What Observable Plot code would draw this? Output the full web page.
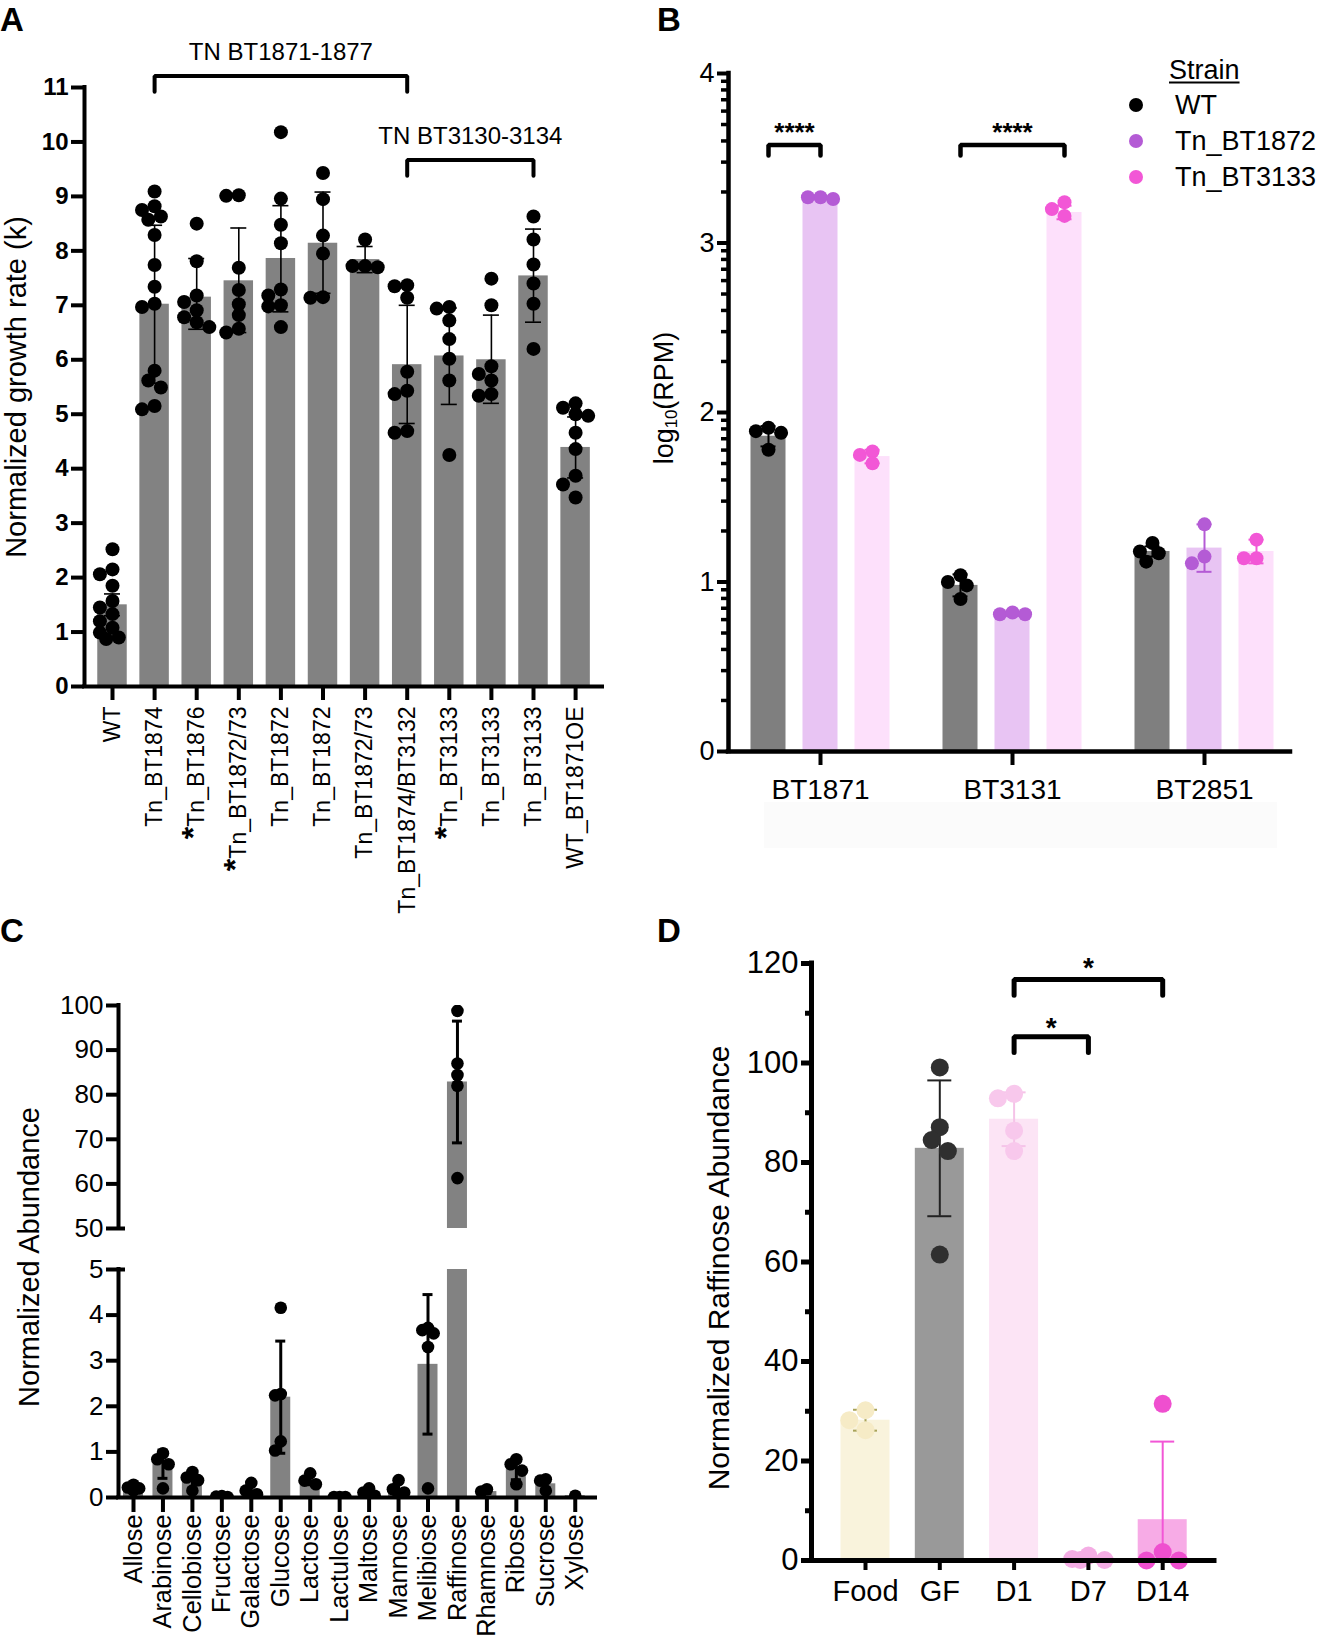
<!DOCTYPE html>
<html>
<head>
<meta charset="utf-8">
<script src="https://cdn.jsdelivr.net/npm/d3@7"></script>
<script src="https://cdn.jsdelivr.net/npm/@observablehq/plot@0.6"></script>
<style>
html,body{margin:0;padding:0;background:#fff;}
#fig{position:relative;width:1318px;height:1641px;overflow:hidden;background:#fff;font-family:"Liberation Sans",Arial,Helvetica,sans-serif;color:#000;}
#fig > svg{position:absolute;left:0;top:0;}
.t{position:absolute;white-space:nowrap;line-height:1;}
</style>
</head>
<body>
<div id="fig"></div>
<script>
// ================= DATA =================
// Panel A
const aCategories = ["WT","Tn_BT1874","*Tn_BT1876","*Tn_BT1872/73","Tn_BT1872","Tn_BT1872","Tn_BT1872/73","Tn_BT1874/BT3132","*Tn_BT3133","Tn_BT3133","Tn_BT3133","WT_BT1871OE"];
const aMeans   = [1.50, 7.02, 7.15, 7.45, 7.86, 8.14, 7.84, 5.91, 6.07, 6.00, 7.54, 4.39];
const aErrLow  = [1.30, 5.57, 6.56, 6.50, 6.88, 7.22, 7.60, 4.83, 5.18, 5.20, 6.69, 3.83];
const aErrHigh = [1.70, 8.47, 7.86, 8.42, 8.83, 9.08, 8.08, 7.00, 6.95, 6.82, 8.40, 4.95];
const aPoints = [
  [2.52, 2.15, 2.06, 1.85, 1.57, 1.45, 1.33, 1.20, 1.08, 0.99, 0.90, 0.87],
  [9.09, 8.82, 8.75, 8.63, 8.57, 8.29, 7.74, 7.34, 7.03, 6.97, 5.80, 5.62, 5.49, 5.15, 5.09],
  [8.50, 7.81, 7.18, 7.06, 6.91, 6.78, 6.69, 6.60],
  [9.02, 9.01, 7.69, 7.28, 7.02, 6.82, 6.57, 6.50],
  [10.18, 8.96, 8.48, 8.14, 7.29, 7.18, 7.00, 6.98, 6.60],
  [9.43, 8.95, 8.28, 7.95, 7.15, 7.14],
  [8.21, 7.72, 7.70, 7.72],
  [7.37, 7.35, 7.14, 5.78, 5.43, 5.37, 4.69, 4.66],
  [6.97, 6.94, 6.72, 6.38, 6.02, 5.62, 4.25],
  [7.49, 7.00, 5.88, 5.74, 5.62, 5.37, 5.34],
  [8.63, 8.21, 7.75, 7.40, 7.03, 6.20],
  [5.20, 5.12, 5.00, 4.97, 4.66, 4.36, 3.87, 3.71, 3.47]
];
const aYTicks = [0,1,2,3,4,5,6,7,8,9,10,11];
const aGroupLabels = ["TN BT1871-1877", "TN BT3130-3134"];
const aGroupFrom = [1, 7];
const aGroupTo = [7, 10];
const aGroupLevel = [11.21, 9.67];
const aGroupTextLevel = [11.65, 10.10];

// Panel B
const bGenes = ["BT1871", "BT3131", "BT2851"];
const bStrains = ["WT", "Tn_BT1872", "Tn_BT3133"];
const bMeanWT = [1.86, 0.98, 1.18];
const bMeanTn1872 = [3.27, 0.81, 1.20];
const bMeanTn3133 = [1.74, 3.18, 1.18];
const bSdWT = [0.06, 0.065, 0.03];
const bSdTn1872 = [0.005, 0.01, 0.14];
const bSdTn3133 = [0.04, 0.04, 0.07];
const bPtsWT = [[1.91, 1.89, 1.88, 1.78], [1.04, 1.00, 0.98, 0.90], [1.23, 1.18, 1.17, 1.12]];
const bPtsTn1872 = [[3.27, 3.27, 3.26], [0.81, 0.82, 0.81], [1.34, 1.15, 1.11]];
const bPtsTn3133 = [[1.77, 1.75, 1.70], [3.24, 3.20, 3.16], [1.25, 1.14, 1.14]];
const bMajorTicks = [0, 1, 2, 3, 4];
const bSigLabels = ["****", "****"];
const bSigFrom = [[0, 0], [1, 0]];   // [gene, strain]
const bSigTo = [[0, 1], [1, 2]];
const bSigLevel = [3.578, 3.578];
const bSigTextLevel = [3.652, 3.652];

// Panel C
const cSugars = ["Allose","Arabinose","Cellobiose","Fructose","Galactose","Glucose","Lactose","Lactulose","Maltose","Mannose","Melibiose","Raffinose","Rhamnose","Ribose","Sucrose","Xylose"];
const cMeans = [0.21, 0.73, 0.37, 0.02, 0.15, 2.20, 0.38, 0.01, 0.10, 0.18, 2.92, 82.85, 0.13, 0.62, 0.30, 0.04];
const cSd    = [0.05, 0.31, 0.18, 0.01, 0.12, 1.23, 0.10, 0.005, 0.08, 0.14, 1.53, 13.65, 0.04, 0.23, 0.14, 0.01];
const cPoints = [
  [0.28, 0.22, 0.20, 0.15],
  [0.97, 0.84, 0.73, 0.20],
  [0.56, 0.44, 0.38, 0.15],
  [0.03, 0.02, 0.01],
  [0.32, 0.15, 0.07, 0.04],
  [4.16, 2.27, 2.24, 1.23, 1.03],
  [0.53, 0.37, 0.29],
  [0.01, 0.01, 0.01],
  [0.20, 0.11, 0.04],
  [0.38, 0.18, 0.11, 0.04],
  [3.72, 3.67, 3.60, 3.30, 0.20],
  [98.8, 87.0, 84.4, 82.0, 61.3],
  [0.18, 0.13],
  [0.84, 0.73, 0.59, 0.29],
  [0.40, 0.37, 0.15],
  [0.04]
];
const cTopTicks = [50, 60, 70, 80, 90, 100];
const cBottomTicks = [0, 1, 2, 3, 4, 5];

// Panel D
const dGroups = ["Food", "GF", "D1", "D7", "D14"];
const dMeans = [28.2, 82.85, 88.7, 0.35, 8.2];
const dSd = [2.1, 13.65, 5.4, 0.45, 15.7];
const dPoints = [
  [30.2, 28.2, 26.2],
  [99.1, 87.1, 84.5, 82.3, 61.5],
  [93.8, 92.9, 86.4, 82.3],
  [1.0, 0.3, 0.1, 0.1],
  [31.5, 1.7, 0, 0]
];
const dMajorTicks = [0, 20, 40, 60, 80, 100, 120];
const dMinorTicks = [10, 30, 50, 70, 90, 110];
const dSigLabels = ["*", "*"];
const dSigFrom = [2, 2];
const dSigTo = [3, 4];
const dSigLevel = [105.3, 116.8];
const dSigTextLevel = [107.0, 119.0];

// ================= STYLE =================
const bBarColors = ["#7f7f7f", "#e8c4f3", "#fde0fb"];
const bDotColors = ["#000000", "#b45bd5", "#f257d6"];
const dBarColors = ["#f9f3dc", "#999999", "#fce4f5", "#f9d2ef", "#f7abe6"];
const dDotColors = ["#f6ebc6", "#2f2f2f", "#f8c8ec", "#f4ade4", "#ef4fcf"];
const dErrColors = ["#a8a35a", "#222222", "#f5c3e8", "#f4ade4", "#f256d6"];

// ================= HELPERS =================
const W = 1318, H = 1641;
const FONT = '"Liberation Sans", Arial, Helvetica, sans-serif';
const fig = document.getElementById("fig");
const intFmt = d => String(d);

function swarm(vals, pyu, pxu, r, maxOff) {
  const idx = d3.range(vals.length).sort((a, b) => d3.descending(vals[a], vals[b]));
  const placed = [], out = new Array(vals.length).fill(0);
  const step = r * 0.9, need = r * 1.55;
  const cands = [0];
  for (let k = 1; k * step <= maxOff + 1e-9; k++) cands.push(-k * step, k * step);
  for (const i of idx) {
    const y = vals[i] * pyu;
    let best = 0, bestD = -1;
    for (const c of cands) {
      const d = placed.length ? d3.min(placed, p => Math.hypot(p.x - c, p.y - y)) : Infinity;
      if (d >= need) { best = c; break; }
      if (d > bestD) { bestD = d; best = c; }
    }
    placed.push({x: best, y});
    out[i] = best / pxu;
  }
  return out;
}

function mk(opts) {
  const p = Plot.plot(Object.assign({
    width: W, height: H,
    style: {background: "transparent", overflow: "visible", fontFamily: FONT, color: "black"}
  }, opts));
  fig.appendChild(p);
  return p;
}

function txt(html, x, y, size, extra = {}) {
  const d = document.createElement("div");
  d.className = "t";
  d.innerHTML = html;
  d.style.left = x + "px";
  d.style.top = y + "px";
  d.style.fontSize = size + "px";
  d.style.transform = extra.rotate ? "translate(-50%,-50%) rotate(-90deg)" : (extra.left ? "translate(0,-50%)" : "translate(-50%,-50%)");
  if (extra.weight) d.style.fontWeight = extra.weight;
  if (extra.css) Object.assign(d.style, extra.css);
  fig.appendChild(d);
  return d;
}

// faint band under panel B labels (behind everything)
(() => {
  const d = document.createElement("div");
  Object.assign(d.style, {position: "absolute", left: "764px", top: "802px", width: "513px", height: "46px", background: "#fbfbfb"});
  fig.appendChild(d);
})();

// ================= PANEL A =================
{
  const L = {x0: 84, x1: 602, y0: 87, y1: 686, c0: 112, step: 42.1};
  const xd = [(L.x0 - L.c0) / L.step, (L.x1 - L.c0) / L.step];
  const pyu = (L.y1 - L.y0) / 11;
  const bars = aCategories.map((c, i) => ({i, mean: aMeans[i], lo: aErrLow[i], hi: aErrHigh[i]}));
  const dots = aPoints.flatMap((vals, i) => {
    const off = swarm(vals, pyu, L.step, 7, 14);
    return vals.map((v, k) => ({x: i + off[k], y: v}));
  });
  const brk = aGroupFrom.flatMap((f, k) => {
    const t = aGroupTo[k], y = aGroupLevel[k], dr = 0.29;
    return [{k, x: f, y: y - dr}, {k, x: f, y}, {k, x: t, y}, {k, x: t, y: y - dr}];
  });
  const brkText = aGroupLabels.map((s, k) => ({s, x: (aGroupFrom[k] + aGroupTo[k]) / 2, y: aGroupTextLevel[k]}));
  const svg = mk({
    marginLeft: L.x0, marginRight: W - L.x1, marginTop: L.y0, marginBottom: H - L.y1,
    x: {domain: xd, label: null},
    y: {domain: [0, 11], label: null},
    marks: [
      Plot.rect(bars, {x1: d => d.i - 0.35, x2: d => d.i + 0.35, y1: 0, y2: "mean", fill: "#828282"}),
      Plot.ruleX(bars, {x: "i", y1: "lo", y2: "hi", stroke: "black", strokeWidth: 1.6}),
      Plot.ruleY(bars, {y: "hi", x1: d => d.i - 0.19, x2: d => d.i + 0.19, stroke: "black", strokeWidth: 1.6}),
      Plot.ruleY(bars, {y: "lo", x1: d => d.i - 0.19, x2: d => d.i + 0.19, stroke: "black", strokeWidth: 1.6}),
      Plot.dot(dots, {x: "x", y: "y", r: 7, fill: "black"}),
      Plot.line(brk, {x: "x", y: "y", z: "k", stroke: "black", strokeWidth: 4, strokeLinejoin: "miter"}),
      Plot.text(brkText, {x: "x", y: "y", text: "s", fontSize: 24}),
      Plot.axisY({ticks: aYTicks, tickFormat: intFmt, tickSize: 13, tickPadding: 3, strokeWidth: 4, fontSize: 24, fontWeight: "bold"}),
      Plot.axisX({ticks: d3.range(aCategories.length), tickFormat: i => aCategories[i], tickRotate: -90, tickSize: 14, tickPadding: 6, strokeWidth: 4, fontSize: 23}),
      Plot.ruleY([0], {stroke: "black", strokeWidth: 4, strokeLinecap: "square"}),
      Plot.ruleX([xd[0]], {y1: 0, y2: 11, stroke: "black", strokeWidth: 4, strokeLinecap: "square"})
    ]
  });
  d3.select(svg).selectAll('g[aria-label="y-axis tick label"]').attr("font-weight", "bold");
  d3.select(svg).selectAll('g[aria-label="x-axis tick label"] text').each(function() {
    const s = this.textContent;
    if (s.startsWith("*")) {
      const el = d3.select(this);
      el.text(null);
      el.append("tspan").attr("font-weight", "bold").attr("font-size", 32).text("*");
      el.append("tspan").text(s.slice(1));
    }
  });
}
txt("Normalized growth rate (k)", 16, 387, 29, {rotate: true});
txt("A", 12, 19, 33, {weight: "bold"});

// ================= PANEL B =================
{
  const L = {x0: 728, x1: 1290, y0: 73, y1: 751, c0: 820, step: 192};
  const xd = [(L.x0 - L.c0) / L.step, (L.x1 - L.c0) / L.step];
  const pyu = (L.y1 - L.y0) / 4;
  const off = 52 / L.step, hw = 17.5 / L.step, cap = 7.5 / L.step;
  const bx = (g, s) => g + (s - 1) * off;
  const means = [bMeanWT, bMeanTn1872, bMeanTn3133];
  const sds = [bSdWT, bSdTn1872, bSdTn3133];
  const pts = [bPtsWT, bPtsTn1872, bPtsTn3133];
  const bars = bStrains.flatMap((s, si) => bGenes.map((g, gi) => ({si, gi, x: bx(gi, si), mean: means[si][gi], lo: means[si][gi] - sds[si][gi], hi: means[si][gi] + sds[si][gi]})));
  const dots = bStrains.flatMap((s, si) => bGenes.flatMap((g, gi) => {
    const vals = pts[si][gi];
    const o = swarm(vals, pyu, L.step, 7, 14);
    return vals.map((v, k) => ({si, x: bx(gi, si) + o[k], y: v}));
  }));
  const minor = d3.range(0, 4).flatMap(n => d3.range(2, 10).map(k => n + Math.log10(k)));
  const brk = bSigFrom.flatMap((f, k) => {
    const x1 = bx(f[0], f[1]), x2 = bx(bSigTo[k][0], bSigTo[k][1]), y = bSigLevel[k], dr = 0.062;
    return [{k, x: x1, y: y - dr}, {k, x: x1, y}, {k, x: x2, y}, {k, x: x2, y: y - dr}];
  });
  const sigText = bSigLabels.map((s, k) => ({s, x: (bx(bSigFrom[k][0], bSigFrom[k][1]) + bx(bSigTo[k][0], bSigTo[k][1])) / 2, y: bSigTextLevel[k]}));
  mk({
    marginLeft: L.x0, marginRight: W - L.x1, marginTop: L.y0, marginBottom: H - L.y1,
    x: {domain: xd, label: null},
    y: {domain: [0, 4], label: null},
    marks: [
      Plot.rect(bars, {x1: d => d.x - hw, x2: d => d.x + hw, y1: 0, y2: "mean", fill: d => bBarColors[d.si]}),
      Plot.ruleX(bars, {x: "x", y1: "lo", y2: "hi", stroke: d => bDotColors[d.si], strokeWidth: 2}),
      Plot.ruleY(bars, {y: "hi", x1: d => d.x - cap, x2: d => d.x + cap, stroke: d => bDotColors[d.si], strokeWidth: 2}),
      Plot.ruleY(bars, {y: "lo", x1: d => d.x - cap, x2: d => d.x + cap, stroke: d => bDotColors[d.si], strokeWidth: 2}),
      Plot.dot(dots, {x: "x", y: "y", r: 7, fill: d => bDotColors[d.si]}),
      Plot.line(brk, {x: "x", y: "y", z: "k", stroke: "black", strokeWidth: 4.5, strokeLinejoin: "miter"}),
      Plot.text(sigText, {x: "x", y: "y", text: "s", fontSize: 26, fontWeight: "bold"}),
      Plot.axisY({ticks: bMajorTicks, tickFormat: intFmt, tickSize: 11, tickPadding: 3, strokeWidth: 4, fontSize: 27}),
      Plot.axisY(minor, {tickSize: 7, strokeWidth: 3.5, fill: "none", label: null}),
      Plot.axisX({ticks: [0, 1, 2], tickFormat: i => bGenes[i], tickSize: 14, tickPadding: 14, strokeWidth: 4, fontSize: 28}),
      Plot.ruleY([0], {stroke: "black", strokeWidth: 4.5, strokeLinecap: "square"}),
      Plot.ruleX([xd[0]], {y1: 0, y2: 4, stroke: "black", strokeWidth: 4.5, strokeLinecap: "square"})
    ]
  });
}
txt('log<sub style="font-size:0.62em;vertical-align:-0.25em">10</sub>(RPM)', 666, 398, 27, {rotate: true});
txt("B", 669, 19, 33, {weight: "bold"});
// legend
txt("Strain", 1169, 70, 27, {left: true, css: {textDecoration: "underline", textDecorationThickness: "2px", textUnderlineOffset: "3px"}});
bStrains.forEach((s, i) => {
  const y = [105, 141, 177][i];
  txt(s, 1175, y, 27, {left: true});
  const dot = document.createElement("div");
  Object.assign(dot.style, {position: "absolute", left: (1136 - 7) + "px", top: (y - 7) + "px", width: "14px", height: "14px", borderRadius: "50%", background: bDotColors[i]});
  fig.appendChild(dot);
});

// ================= PANEL C =================
{
  const L = {x0: 118, x1: 595, c0: 133, step: 29.45, ty0: 1005, ty1: 1228, by0: 1269, by1: 1497};
  const xd = [(L.x0 - L.c0) / L.step, (L.x1 - L.c0) / L.step];
  const pyuTop = (L.ty1 - L.ty0) / 50, pyuBot = (L.by1 - L.by0) / 5;
  const hw = 10 / L.step, cap = 5 / L.step;
  const bars = cSugars.map((s, i) => ({i, mean: cMeans[i], lo: Math.max(0, cMeans[i] - cSd[i]), hi: cMeans[i] + cSd[i]}));
  const dots = cPoints.flatMap((vals, i) => {
    const o = swarm(vals, cMeans[i] > 50 ? pyuTop : pyuBot, L.step, 6.3, 10);
    return vals.map((v, k) => ({x: i + o[k], y: v}));
  });
  const dataMarks = (clipped) => [
    Plot.rect(bars, {x1: d => d.i - hw, x2: d => d.i + hw, y1: 0, y2: "mean", fill: "#828282", clip: clipped}),
    Plot.ruleX(bars, {x: "i", y1: "lo", y2: "hi", stroke: "black", strokeWidth: 3, clip: clipped}),
    Plot.ruleY(bars, {y: "hi", x1: d => d.i - cap, x2: d => d.i + cap, stroke: "black", strokeWidth: 3, clip: clipped}),
    Plot.ruleY(bars.filter(d => d.lo > 0), {y: "lo", x1: d => d.i - cap, x2: d => d.i + cap, stroke: "black", strokeWidth: 3, clip: clipped}),
    Plot.dot(dots, {x: "x", y: "y", r: 6.3, fill: "black", clip: clipped})
  ];
  // top segment
  mk({
    marginLeft: L.x0, marginRight: W - L.x1, marginTop: L.ty0, marginBottom: H - L.ty1,
    x: {domain: xd, label: null, axis: null},
    y: {domain: [50, 100], label: null},
    marks: [
      ...dataMarks(true),
      Plot.axisY({ticks: cTopTicks, tickFormat: intFmt, tickSize: 12, tickPadding: 3, strokeWidth: 4, fontSize: 26}),
      Plot.ruleY([50], {x1: xd[0], x2: xd[0] + 7 / L.step, stroke: "black", strokeWidth: 4}),
      Plot.ruleX([xd[0]], {y1: 50, y2: 100, stroke: "black", strokeWidth: 4, strokeLinecap: "square"})
    ]
  });
  // bottom segment
  mk({
    marginLeft: L.x0, marginRight: W - L.x1, marginTop: L.by0, marginBottom: H - L.by1,
    x: {domain: xd, label: null},
    y: {domain: [0, 5], label: null},
    marks: [
      ...dataMarks(true),
      Plot.axisY({ticks: cBottomTicks, tickFormat: intFmt, tickSize: 12, tickPadding: 3, strokeWidth: 4, fontSize: 26}),
      Plot.axisX({ticks: d3.range(cSugars.length), tickFormat: i => cSugars[i], tickRotate: -90, tickSize: 15, tickPadding: 2, strokeWidth: 4, fontSize: 25.3}),
      Plot.ruleY([5], {x1: xd[0], x2: xd[0] + 7 / L.step, stroke: "black", strokeWidth: 4}),
      Plot.ruleY([0], {stroke: "black", strokeWidth: 4, strokeLinecap: "square"}),
      Plot.ruleX([xd[0]], {y1: 0, y2: 5, stroke: "black", strokeWidth: 4, strokeLinecap: "square"})
    ]
  });
}
txt("Normalized Abundance", 29, 1257, 29, {rotate: true});
txt("C", 12, 930, 33, {weight: "bold"});

// ================= PANEL D =================
{
  const L = {x0: 811, x1: 1214, y0: 963, y1: 1560, c0: 865, step: 74.3};
  const xd = [(L.x0 - L.c0) / L.step, (L.x1 - L.c0) / L.step];
  const pyu = (L.y1 - L.y0) / 120;
  const hw = 24.5 / L.step, cap = 12 / L.step;
  const bars = dGroups.map((g, i) => ({i, mean: dMeans[i], lo: Math.max(0, dMeans[i] - dSd[i]), hi: dMeans[i] + dSd[i]}));
  const dots = dPoints.flatMap((vals, i) => {
    const o = swarm(vals, pyu, L.step, 9, 24);
    return vals.map((v, k) => ({i, x: i + o[k], y: v}));
  });
  const brk = dSigFrom.flatMap((f, k) => {
    const t = dSigTo[k], y = dSigLevel[k], dr = 3.2;
    return [{k, x: f, y: y - dr}, {k, x: f, y}, {k, x: t, y}, {k, x: t, y: y - dr}];
  });
  const sigText = dSigLabels.map((s, k) => ({s, x: (dSigFrom[k] + dSigTo[k]) / 2, y: dSigTextLevel[k]}));
  mk({
    marginLeft: L.x0, marginRight: W - L.x1, marginTop: L.y0, marginBottom: H - L.y1,
    x: {domain: xd, label: null},
    y: {domain: [0, 120], label: null},
    marks: [
      Plot.rect(bars, {x1: d => d.i - hw, x2: d => d.i + hw, y1: 0, y2: "mean", fill: d => dBarColors[d.i]}),
      Plot.ruleX(bars, {x: "i", y1: "lo", y2: "hi", stroke: d => dErrColors[d.i], strokeWidth: 2}),
      Plot.ruleY(bars, {y: "hi", x1: d => d.i - cap, x2: d => d.i + cap, stroke: d => dErrColors[d.i], strokeWidth: 2}),
      Plot.ruleY(bars.filter(d => d.lo > 0), {y: "lo", x1: d => d.i - cap, x2: d => d.i + cap, stroke: d => dErrColors[d.i], strokeWidth: 2}),
      Plot.dot(dots, {x: "x", y: "y", r: 9, fill: d => dDotColors[d.i]}),
      Plot.line(brk, {x: "x", y: "y", z: "k", stroke: "black", strokeWidth: 5, strokeLinejoin: "miter"}),
      Plot.text(sigText, {x: "x", y: "y", text: "s", fontSize: 28, fontWeight: "bold"}),
      Plot.axisY({ticks: dMajorTicks, tickFormat: intFmt, tickSize: 10, tickPadding: 3, strokeWidth: 5, fontSize: 31}),
      Plot.axisY(dMinorTicks, {tickSize: 6, strokeWidth: 5, fill: "none", label: null}),
      Plot.axisX({ticks: d3.range(dGroups.length), tickFormat: i => dGroups[i], tickSize: 10, tickPadding: 10, strokeWidth: 4, fontSize: 29}),
      Plot.ruleY([0], {stroke: "black", strokeWidth: 5, strokeLinecap: "square"}),
      Plot.ruleX([xd[0]], {y1: 0, y2: 120, stroke: "black", strokeWidth: 5, strokeLinecap: "square"})
    ]
  });
}
txt("Normalized Raffinose Abundance", 719, 1268, 30, {rotate: true});
txt("D", 669, 930, 33, {weight: "bold"});
</script>
</body>
</html>
